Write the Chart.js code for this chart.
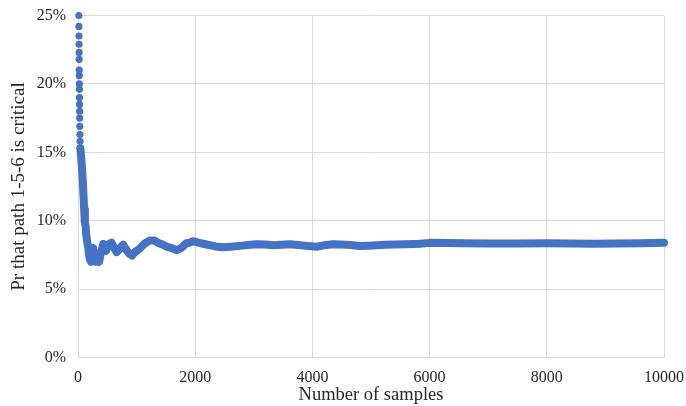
<!DOCTYPE html>
<html>
<head>
<meta charset="utf-8">
<script src="https://cdn.jsdelivr.net/npm/chart.js@4.4.1/dist/chart.umd.min.js"></script>
<style>
  html, body { margin: 0; padding: 0; background: #fff; }
  .chart-container { width: 686px; height: 406px; }
</style>
</head>
<body>
<div class="chart-container">
  <canvas id="critChart"></canvas>
</div>
<script>
// first few samples, where the estimate still jumps around
const earlySamples = [14, 16, 17, 18, 19, 20, 21, 22, 23, 24, 25, 26, 28, 29, 31, 33, 35, 38];
const earlyPct = [25.0, 24.2, 23.5, 22.9, 22.3, 21.8, 21.0, 20.6, 20.0, 19.6, 19.0, 18.5, 18.0, 17.5, 16.9, 16.3, 15.8, 15.3];

// running estimate after that
const samples = [
  40, 55, 72, 90, 105, 118, 130, 140, 160, 180, 200, 220, 240, 260, 280, 300,
  330, 360, 390, 430, 480, 530, 570, 620, 660, 720, 770, 820, 870, 920, 970,
  1050, 1130, 1220, 1300, 1380, 1450, 1510, 1600, 1680, 1760, 1850, 1910, 1960,
  2050, 2190, 2350, 2475, 2600, 2760, 2900, 3045, 3200, 3330, 3470, 3615, 3760,
  3900, 4070, 4200, 4350, 4500, 4650, 4810, 4950, 5100, 5250, 5400, 5600, 5830,
  6000, 6300, 6600, 7000, 7500, 8000, 8400, 8800, 9200, 9600, 10000
];
const pct = [
  15.3, 14.6, 13.6, 12.2, 10.8, 9.8, 9.6, 9.0, 8.4, 7.8, 7.2, 7.0, 7.5, 8.0, 7.4, 7.0,
  7.2, 7.0, 7.6, 8.3, 7.8, 8.3, 8.4, 8.0, 7.7, 8.0, 8.25, 7.9, 7.6, 7.45, 7.7,
  7.95, 8.3, 8.55, 8.55, 8.35, 8.25, 8.1, 8.0, 7.85, 8.0, 8.35, 8.4, 8.5,
  8.4, 8.26, 8.12, 8.06, 8.1, 8.16, 8.22, 8.28, 8.26, 8.2, 8.24, 8.28, 8.22,
  8.16, 8.1, 8.2, 8.28, 8.26, 8.22, 8.15, 8.17, 8.2, 8.24, 8.26, 8.28, 8.32,
  8.38, 8.37, 8.35, 8.34, 8.33, 8.35, 8.34, 8.32, 8.34, 8.36, 8.38
];

const xTicks = [0, 2000, 4000, 6000, 8000, 10000];
const yTicks = [0, 5, 10, 15, 20, 25];

const blue = "#4472C4";
const gridColor = "#d9d9d9";
const textColor = "#262626";
const serif = "'Liberation Serif', 'Times New Roman', serif";

const toPoints = (xs, ys) => xs.map((x, i) => ({ x, y: ys[i] }));

// keep the tick labels from pushing the plot area inwards
const noOverflow = (s) => {
  s.paddingLeft = 0;
  s.paddingRight = 0;
  s.paddingTop = 0;
  s.paddingBottom = 0;
};

new Chart(document.getElementById("critChart"), {
  type: "scatter",
  data: {
    datasets: [
      {
        data: toPoints(samples, pct),
        showLine: true,
        borderColor: blue,
        borderWidth: 8,
        borderJoinStyle: "round",
        borderCapStyle: "round",
        pointRadius: 0,
        tension: 0,
        clip: false,
      },
      {
        data: toPoints(earlySamples, earlyPct),
        backgroundColor: blue,
        borderColor: blue,
        pointRadius: 3.6,
        borderWidth: 0,
        clip: false,
      },
    ],
  },
  options: {
    responsive: true,
    maintainAspectRatio: false,
    animation: false,
    layout: { padding: { top: 15.5, right: 22, left: 0, bottom: 0 } },
    plugins: {
      legend: { display: false },
      tooltip: { enabled: false },
    },
    scales: {
      x: {
        type: "linear",
        min: 0,
        max: 10000,
        afterBuildTicks: (axis) => {
          axis.ticks = xTicks.map((v) => ({ value: v }));
        },
        grid: { color: gridColor, drawTicks: false },
        border: { color: gridColor },
        ticks: {
          color: textColor,
          padding: 11,
          font: { family: serif, size: 16 },
          maxRotation: 0,
          callback: (v) => String(v),
        },
        title: {
          display: true,
          text: "Number of samples",
          color: textColor,
          font: { family: serif, size: 18.5 },
          padding: { top: 2, bottom: 0 },
        },
        afterFit: (s) => {
          s.height = 48.5;
          noOverflow(s);
        },
      },
      y: {
        min: 0,
        max: 25,
        afterBuildTicks: (axis) => {
          axis.ticks = yTicks.map((v) => ({ value: v }));
        },
        grid: { color: gridColor, drawTicks: false },
        border: { color: gridColor },
        ticks: {
          color: textColor,
          padding: 12,
          font: { family: serif, size: 16 },
          callback: (v) => v + "%",
        },
        title: {
          display: true,
          text: "Pr that path 1-5-6 is critical",
          color: textColor,
          font: { family: serif, size: 19 },
          padding: { top: 8, bottom: 4 },
        },
        afterFit: (s) => {
          s.width = 78;
          noOverflow(s);
        },
      },
    },
  },
});
</script>
</body>
</html>
